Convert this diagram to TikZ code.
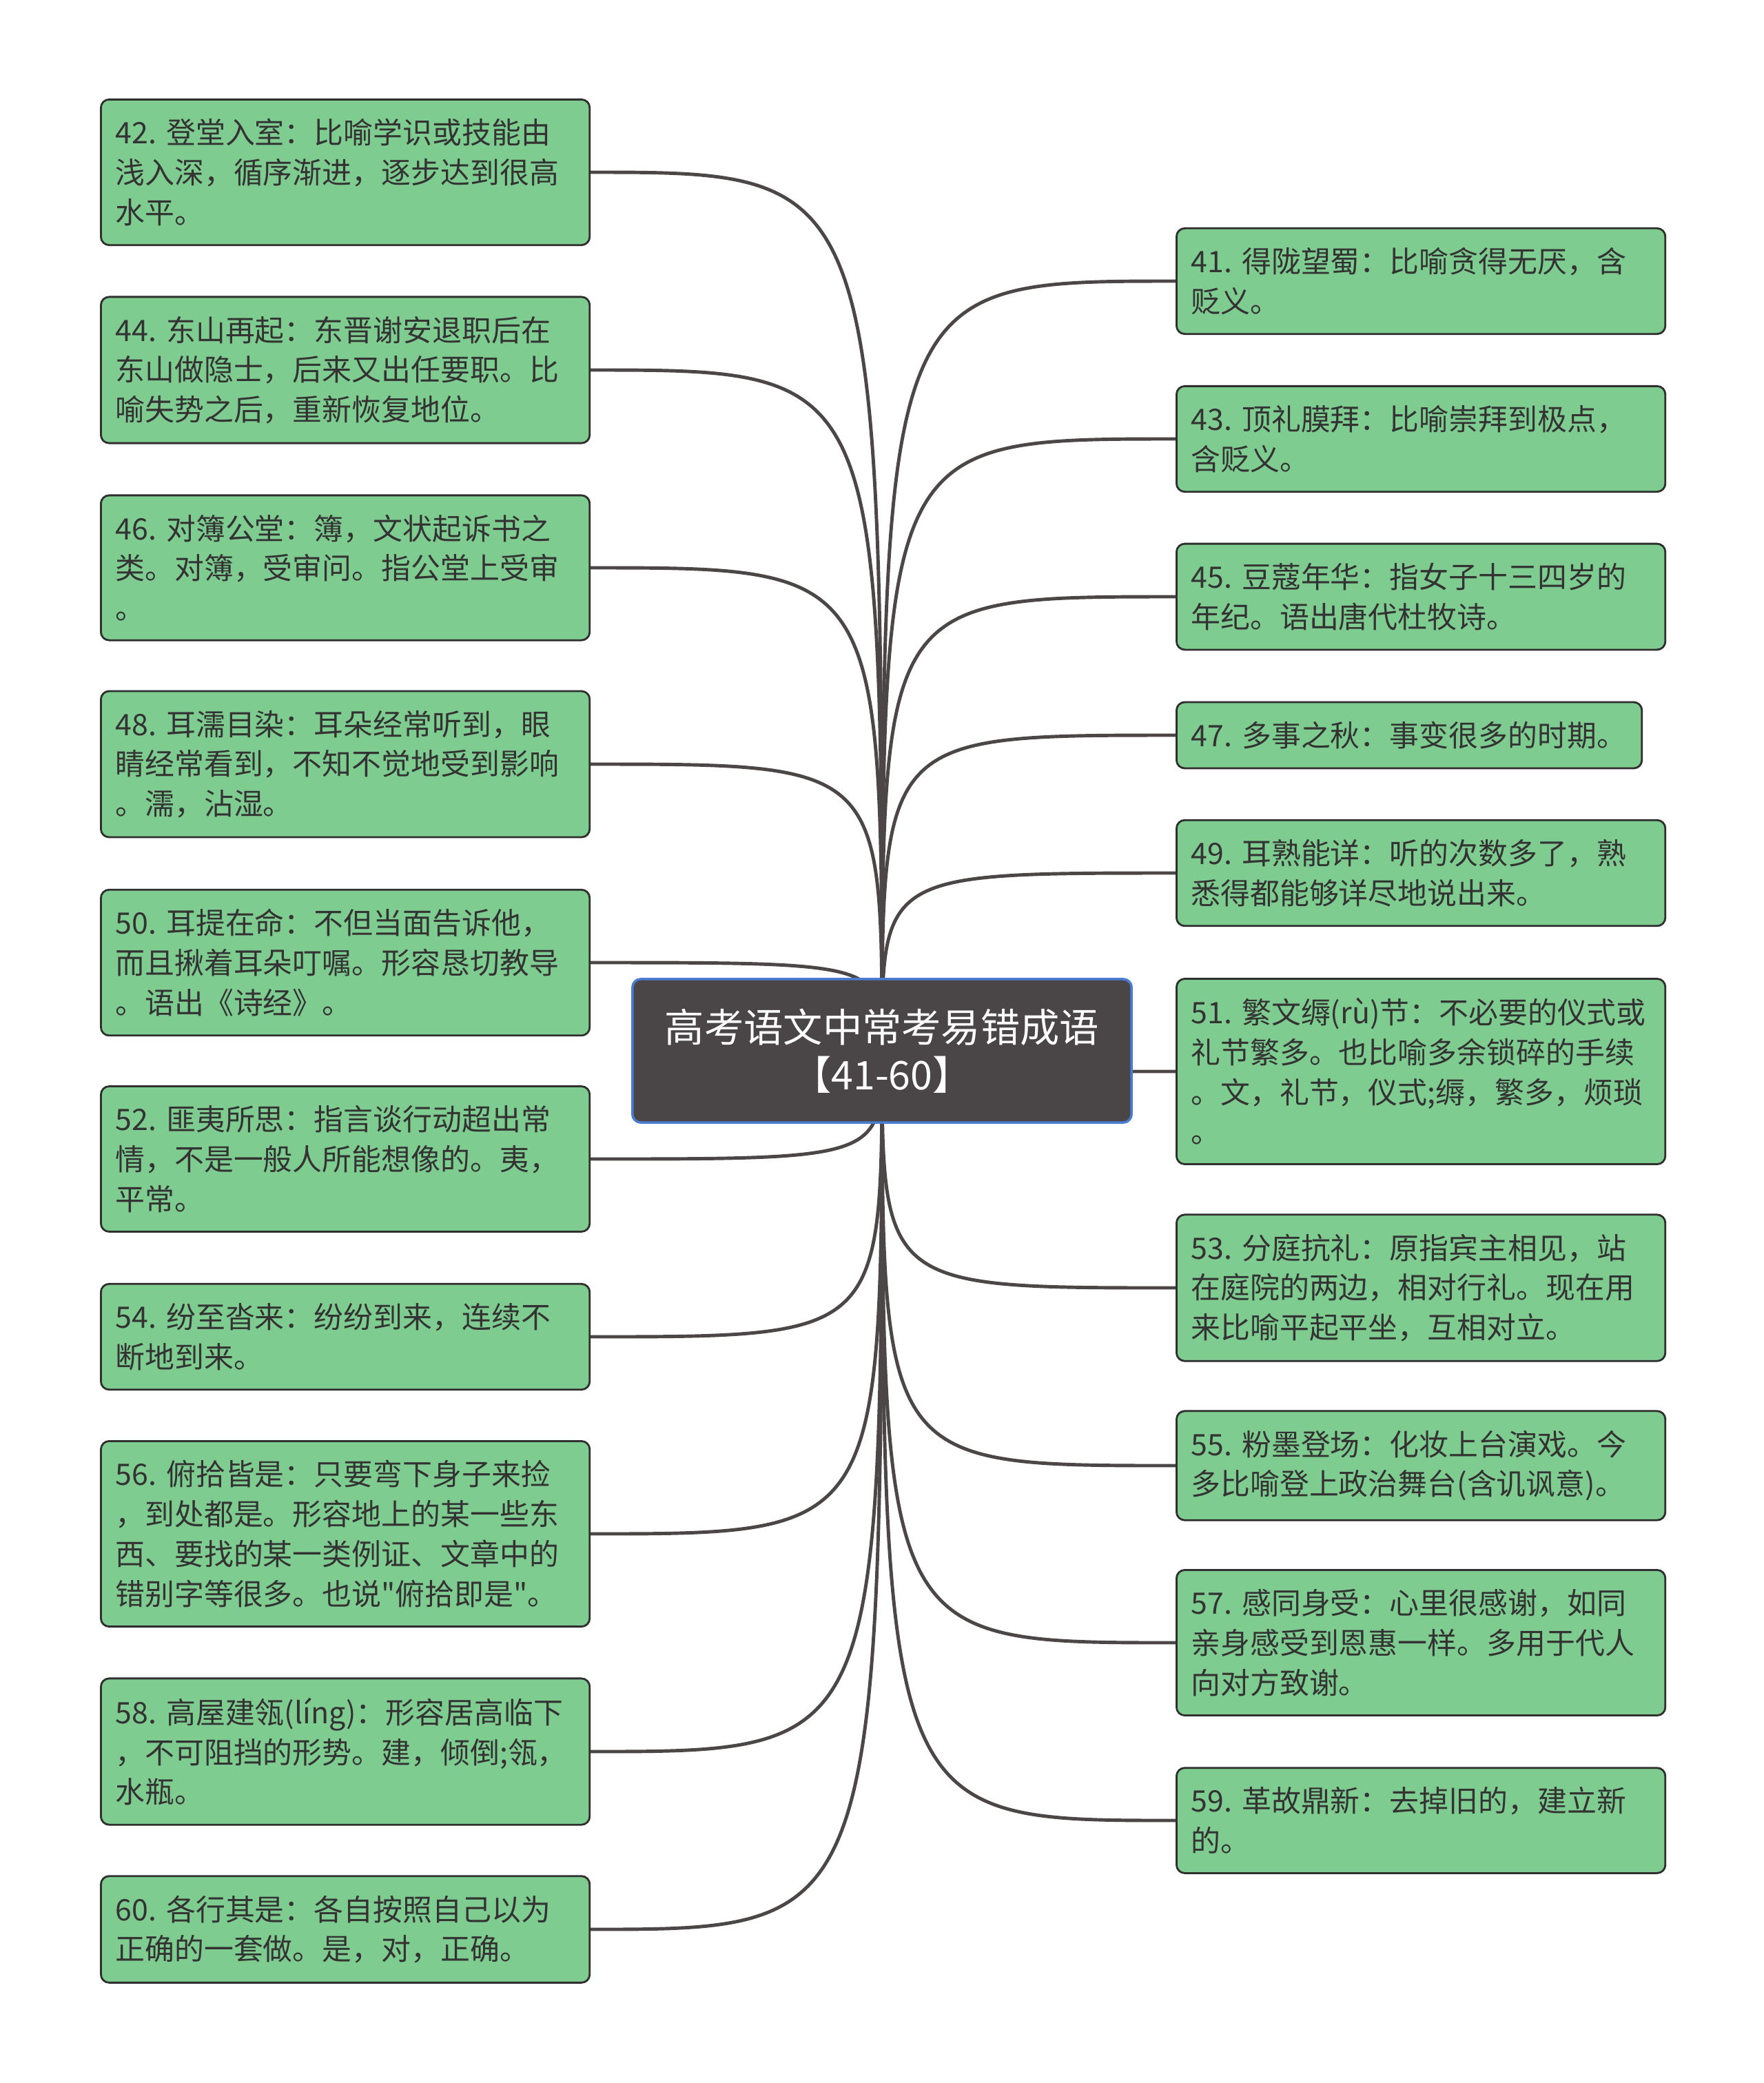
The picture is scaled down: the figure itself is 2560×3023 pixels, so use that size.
\documentclass[tikz,border=0pt]{standalone}
\usepackage{fontspec}
\newfontfamily\cjk{Noto Sans CJK SC}
\usetikzlibrary{backgrounds}
\definecolor{leafgreen}{HTML}{7FCC91}
\definecolor{leafline}{HTML}{2F2F2F}
\definecolor{inkgray}{HTML}{333333}
\definecolor{rootfill}{HTML}{4A4647}
\definecolor{rootline}{HTML}{4A7DD1}
\definecolor{linkgray}{HTML}{4D4647}

\begin{document}
\begin{tikzpicture}[x=0.01cm, y=-0.01cm,
	idiom/.style={draw=leafline, fill=leafgreen, line width=0.8pt, rounded corners=0.12cm, anchor=west, align=left, text width=6.67cm, inner xsep=0.21cm, inner ysep=0.28cm, text=inkgray, font=\cjk\fontsize{12.2pt}{16.4pt}\selectfont},
	topic/.style={draw=rootline, fill=rootfill, line width=1pt, rounded corners=0.12cm, align=center, minimum width=7.24cm, minimum height=2.08cm, text=white, font=\cjk\fontsize{16.3pt}{19.7pt}\selectfont},
	branch/.style={draw=linkgray, line width=1.4pt}]
	
	\useasboundingbox (0,0) rectangle (2560,3023);
	\node[topic] (root) at (1280, 1525) {高考语文中常考易错成语\\【41-60】};
	
	% left column
	\node[idiom] (n42) at (145, 250) {42.~登堂入室：比喻学识或技能由\\浅入深，循序渐进，逐步达到很高\\水平。};
	\node[idiom] (n44) at (145, 537) {44.~东山再起：东晋谢安退职后在\\东山做隐士，后来又出任要职。比\\喻失势之后，重新恢复地位。};
	\node[idiom] (n46) at (145, 824) {46.~对簿公堂：簿，文状起诉书之\\类。对簿，受审问。指公堂上受审\\。};
	\node[idiom] (n48) at (145, 1109) {48.~耳濡目染：耳朵经常听到，眼\\睛经常看到，不知不觉地受到影响\\。濡，沾湿。};
	\node[idiom] (n50) at (145, 1397) {50.~耳提在命：不但当面告诉他，\\而且揪着耳朵叮嘱。形容恳切教导\\。语出《诗经》。};
	\node[idiom] (n52) at (145, 1682) {52.~匪夷所思：指言谈行动超出常\\情，不是一般人所能想像的。夷，\\平常。};
	\node[idiom] (n54) at (145, 1940) {54.~纷至沓来：纷纷到来，连续不\\断地到来。};
	\node[idiom] (n56) at (145, 2226) {56.~俯拾皆是：只要弯下身子来捡\\，到处都是。形容地上的某一些东\\西、要找的某一类例证、文章中的\\错别字等很多。也说"俯拾即是"。};
	\node[idiom] (n58) at (145, 2542) {58.~高屋建瓴(líng)：形容居高临下\\，不可阻挡的形势。建，倾倒;瓴，\\水瓶。};
	\node[idiom] (n60) at (145, 2800) {60.~各行其是：各自按照自己以为\\正确的一套做。是，对，正确。};
	
	% right column
	\node[idiom] (n41) at (1706, 408) {41.~得陇望蜀：比喻贪得无厌，含\\贬义。};
	\node[idiom] (n43) at (1706, 637) {43.~顶礼膜拜：比喻崇拜到极点，\\含贬义。};
	\node[idiom] (n45) at (1706, 866) {45.~豆蔻年华：指女子十三四岁的\\年纪。语出唐代杜牧诗。};
	\node[idiom, text width=6.33cm] (n47) at (1706, 1067) {47.~多事之秋：事变很多的时期。};
	\node[idiom] (n49) at (1706, 1267) {49.~耳熟能详：听的次数多了，熟\\悉得都能够详尽地说出来。};
	\node[idiom] (n51) at (1706, 1555) {51.~繁文缛(rù)节：不必要的仪式或\\礼节繁多。也比喻多余锁碎的手续\\。文，礼节，仪式;缛，繁多，烦琐\\。};
	\node[idiom] (n53) at (1706, 1869) {53.~分庭抗礼：原指宾主相见，站\\在庭院的两边，相对行礼。现在用\\来比喻平起平坐，互相对立。};
	\node[idiom] (n55) at (1706, 2127) {55.~粉墨登场：化妆上台演戏。今\\多比喻登上政治舞台(含讥讽意)。};
	\node[idiom] (n57) at (1706, 2384) {57.~感同身受：心里很感谢，如同\\亲身感受到恩惠一样。多用于代人\\向对方致谢。};
	\node[idiom] (n59) at (1706, 2642) {59.~革故鼎新：去掉旧的，建立新\\的。};
	
	\begin{scope}[on background layer]
		\fill[white] (0,0) rectangle (2560,3023);
		\draw[branch] (root.center) .. controls (root.center |- n42.east) .. (n42.east);
		\draw[branch] (root.center) .. controls (root.center |- n44.east) .. (n44.east);
		\draw[branch] (root.center) .. controls (root.center |- n46.east) .. (n46.east);
		\draw[branch] (root.center) .. controls (root.center |- n48.east) .. (n48.east);
		\draw[branch] (root.center) .. controls (root.center |- n50.east) .. (n50.east);
		\draw[branch] (root.center) .. controls (root.center |- n52.east) .. (n52.east);
		\draw[branch] (root.center) .. controls (root.center |- n54.east) .. (n54.east);
		\draw[branch] (root.center) .. controls (root.center |- n56.east) .. (n56.east);
		\draw[branch] (root.center) .. controls (root.center |- n58.east) .. (n58.east);
		\draw[branch] (root.center) .. controls (root.center |- n60.east) .. (n60.east);
		\draw[branch] (root.center) .. controls (root.center |- n41.west) .. (n41.west);
		\draw[branch] (root.center) .. controls (root.center |- n43.west) .. (n43.west);
		\draw[branch] (root.center) .. controls (root.center |- n45.west) .. (n45.west);
		\draw[branch] (root.center) .. controls (root.center |- n47.west) .. (n47.west);
		\draw[branch] (root.center) .. controls (root.center |- n49.west) .. (n49.west);
		\draw[branch] (root.center) .. controls (root.center |- n51.west) .. (n51.west);
		\draw[branch] (root.center) .. controls (root.center |- n53.west) .. (n53.west);
		\draw[branch] (root.center) .. controls (root.center |- n55.west) .. (n55.west);
		\draw[branch] (root.center) .. controls (root.center |- n57.west) .. (n57.west);
		\draw[branch] (root.center) .. controls (root.center |- n59.west) .. (n59.west);
	\end{scope}
\end{tikzpicture}
\end{document}
